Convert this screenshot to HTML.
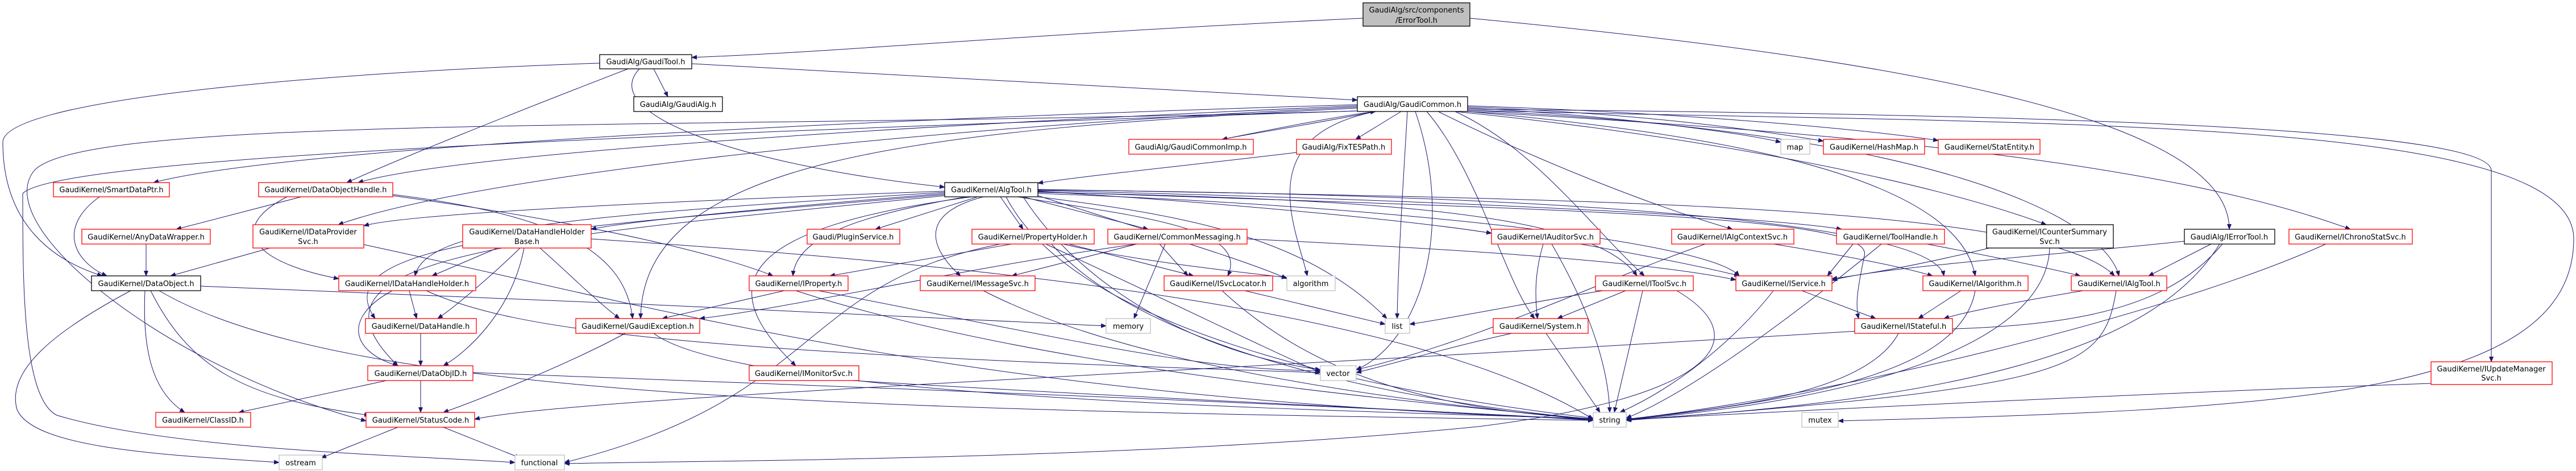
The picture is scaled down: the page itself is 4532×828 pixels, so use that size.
<!DOCTYPE html>
<html><head><meta charset="utf-8"><style>html,body{margin:0;padding:0;background:#fff}svg{display:block}</style></head><body>
<svg width="4532" height="828" viewBox="0 0 4532 828" xmlns="http://www.w3.org/2000/svg" font-family="'DejaVu Sans','Liberation Sans',sans-serif" font-size="13">
<defs><marker id="a" markerWidth="10" markerHeight="8" refX="9" refY="4" orient="auto" markerUnits="userSpaceOnUse"><path d="M0,0 L10,4 L0,8 z" fill="#191970"/></marker></defs>
<g fill="none" stroke="#191970" stroke-width="1" marker-end="url(#a)">
<path d="M2398 32 C1800 60 1500 90 1217 101"/>
<path d="M2586 32 C3300 100 3922 200 3922 403"/>
<path d="M1150 121 L1175 170"/>
<path d="M1217 112 C1700 140 2100 160 2388 176"/>
<path d="M1125 121 C1050 200 1300 290 1662 329"/>
<path d="M1105 121 C900 200 700 280 610 321"/>
<path d="M1055 111 C500 130 5 180 5 250 C5 400 100 460 180 485"/>
<path d="M2420 196 C2300 220 2200 235 2150 245"/>
<path d="M2150 245 C2250 225 2350 205 2420 196"/>
<path d="M2465 196 L2385 245"/>
<path d="M2582 190 C2800 200 3050 230 3133 250"/>
<path d="M2582 188 C2900 200 3100 230 3208 248"/>
<path d="M2582 186 C3000 200 3300 230 3410 247"/>
<path d="M2281 268 C2100 290 1900 310 1826 322"/>
<path d="M2388 184 C1500 210 500 260 270 321"/>
<path d="M2388 186 C1600 220 800 270 630 321"/>
<path d="M2388 188 C1500 230 800 320 595 395"/>
<path d="M2388 190 C1600 230 1130 280 1127 560"/>
<path d="M2420 196 C2200 240 2280 400 2300 485"/>
<path d="M2476 196 C2470 300 2460 450 2458 560"/>
<path d="M2490 196 C2560 400 2500 600 2386 650"/>
<path d="M2510 196 C2600 300 2650 500 2700 560"/>
<path d="M2388 195 C1200 230 150 200 60 300 C-20 400 300 650 644 740"/>
<path d="M2388 195 C1000 240 100 280 40 340 C40 500 40 700 100 730 C300 790 700 800 906 813"/>
<path d="M2530 196 C2700 280 2900 360 3048 403"/>
<path d="M2560 196 C3000 240 3400 320 3600 395"/>
<path d="M2582 196 C3200 230 3800 280 4135 403"/>
<path d="M2582 192 C3500 200 4383 220 4383 300 L4383 636"/>
<path d="M2582 194 C3400 230 3700 380 3728 485"/>
<path d="M2582 196 C3200 250 3450 350 3475 485"/>
<path d="M2560 196 C2700 260 2800 400 2893 485"/>
<path d="M2582 194 C3600 220 4528 200 4528 420 C4528 700 4000 720 3234 740"/>
<path d="M1720 346 L1540 403"/>
<path d="M1760 346 L1800 403"/>
<path d="M1800 346 L2020 403"/>
<path d="M1826 336 C2200 360 2500 390 2624 410"/>
<path d="M1826 335 C2500 350 3100 380 3240 403"/>
<path d="M1826 338 C2400 350 2800 370 2880 485"/>
<path d="M1826 340 C2400 360 3000 420 3060 485"/>
<path d="M1826 333 C2800 350 3600 360 3720 485"/>
<path d="M1826 334 C2600 340 3400 380 3420 485"/>
<path d="M1826 337 C2800 370 3300 380 3280 450 C3265 520 3265 540 3270 560"/>
<path d="M1700 346 C1500 380 1400 420 1395 485"/>
<path d="M1730 346 C1600 380 1650 450 1690 485"/>
<path d="M1790 346 C2000 380 2200 400 2160 485"/>
<path d="M1710 346 C1300 400 1250 500 1400 643"/>
<path d="M1662 340 C1300 370 1100 390 1040 403"/>
<path d="M1662 336 C1000 360 700 380 640 397"/>
<path d="M1662 338 C1000 380 750 400 730 485"/>
<path d="M1662 342 C1000 400 560 420 660 560"/>
<path d="M1662 344 C900 420 500 450 700 643"/>
<path d="M1826 346 C2100 380 2300 420 2440 560"/>
<path d="M1800 346 C1900 500 2100 620 2323 650"/>
<path d="M1770 346 C1900 600 2500 700 2803 735"/>
<path d="M1826 344 C2000 400 2200 460 2264 490"/>
<path d="M1780 429 L1460 485"/>
<path d="M1880 429 L2100 485"/>
<path d="M1850 429 C2000 600 2400 700 2803 737"/>
<path d="M1760 429 C1400 500 1450 700 993 813"/>
<path d="M1870 429 C2000 460 2200 480 2264 488"/>
<path d="M1840 429 C2100 550 2200 600 2323 655"/>
<path d="M2000 429 L1780 485"/>
<path d="M2040 429 L2090 485"/>
<path d="M2050 429 L1995 560"/>
<path d="M2194 420 C2600 440 2900 460 3054 492"/>
<path d="M2000 429 C1700 470 1400 540 1231 560"/>
<path d="M1380 511 L1165 560"/>
<path d="M1400 511 C1800 640 2400 700 2803 737"/>
<path d="M1440 511 C1900 600 2100 650 2323 652"/>
<path d="M1730 511 C2000 650 2500 710 2803 738"/>
<path d="M1500 669 C2000 700 2500 720 2803 739"/>
<path d="M2190 511 L2437 570"/>
<path d="M2150 511 C2300 650 2500 720 2803 736"/>
<path d="M2715 429 C2700 480 2700 520 2705 560"/>
<path d="M2730 429 C2800 550 2830 650 2832 725"/>
<path d="M2780 429 C2900 450 3000 470 3060 485"/>
<path d="M2860 511 L2740 560"/>
<path d="M2820 511 C2700 530 2550 560 2480 570"/>
<path d="M2890 511 L2840 725"/>
<path d="M2950 511 C3100 600 3000 700 2600 750 C2000 810 1200 810 993 815"/>
<path d="M2660 586 C2550 610 2450 640 2386 655"/>
<path d="M2720 586 L2815 725"/>
<path d="M3170 511 L3300 560"/>
<path d="M3120 511 C3050 600 2950 680 2850 725"/>
<path d="M3450 511 L3375 560"/>
<path d="M3475 511 C3450 650 3200 700 2861 738"/>
<path d="M3665 511 C3550 530 3450 550 3420 560"/>
<path d="M3723 511 C3700 650 3650 680 2861 739"/>
<path d="M3340 586 C3280 700 3000 720 2861 737"/>
<path d="M3260 429 L3215 485"/>
<path d="M3390 429 C3500 450 3600 470 3660 485"/>
<path d="M3310 429 C3100 600 2950 700 2861 735"/>
<path d="M3000 429 C2800 500 2600 600 2386 650"/>
<path d="M3120 429 C3250 450 3350 470 3400 485"/>
<path d="M3500 436 C3400 460 3300 480 3223 490"/>
<path d="M3606 436 C3600 600 3300 700 2861 738"/>
<path d="M3890 429 L3780 485"/>
<path d="M3905 429 C3800 600 3500 700 2861 738"/>
<path d="M3843 424 C3600 450 3300 470 3223 493"/>
<path d="M3910 429 C3800 560 3600 580 3300 580 C2000 660 1000 700 835 737"/>
<path d="M4092 429 C3800 560 3200 700 2861 737"/>
<path d="M4277 674 C3800 690 3200 720 2861 738"/>
<path d="M530 346 L310 403"/>
<path d="M505 346 C400 400 440 460 596 490"/>
<path d="M691 342 C1000 380 1100 450 1113 560"/>
<path d="M691 344 C1100 400 1300 460 1360 485"/>
<path d="M175 346 C100 400 130 460 188 485"/>
<path d="M257 429 L257 485"/>
<path d="M475 436 L300 485"/>
<path d="M640 430 C1200 550 1700 700 2803 737"/>
<path d="M875 436 L760 485"/>
<path d="M915 436 C870 480 800 540 770 560"/>
<path d="M922 436 C900 550 820 620 780 643"/>
<path d="M950 436 C1000 480 1050 530 1090 560"/>
<path d="M1040 420 C1800 470 2500 550 2803 737"/>
<path d="M720 511 L733 560"/>
<path d="M690 511 C600 560 620 620 700 643"/>
<path d="M750 511 C900 580 1200 620 2323 655"/>
<path d="M740 586 L740 643"/>
<path d="M680 669 L420 725"/>
<path d="M740 669 L740 725"/>
<path d="M832 655 C1500 680 2300 710 2803 738"/>
<path d="M255 511 C250 620 270 690 325 725"/>
<path d="M265 511 C330 640 420 700 650 730"/>
<path d="M230 511 C100 580 10 650 30 720 C60 790 300 800 491 813"/>
<path d="M280 511 C600 700 1500 720 2803 739"/>
<path d="M353 503 C800 520 1500 550 1946 573"/>
<path d="M700 751 L565 805"/>
<path d="M780 751 L915 805"/>
<path d="M1100 586 C1000 640 850 700 780 725"/>
<path d="M1150 586 C1300 700 2300 720 2803 736"/>
</g>
<g stroke-width="1.3">
<g fill="#fff" stroke="#ff0000">
<rect x="1986" y="245" width="219" height="26"/><rect x="2281" y="245" width="167" height="26"/>
<rect x="3208" y="245" width="178" height="26"/><rect x="3410" y="245" width="179" height="26"/>
<rect x="94" y="321" width="204" height="25"/><rect x="455" y="321" width="236" height="25"/>
<rect x="144" y="403" width="226" height="26"/><rect x="445" y="395" width="195" height="41"/>
<rect x="814" y="395" width="226" height="41"/><rect x="1420" y="403" width="163" height="26"/>
<rect x="1710" y="403" width="215" height="26"/><rect x="1949" y="403" width="245" height="26"/>
<rect x="2624" y="403" width="191" height="26"/><rect x="2941" y="403" width="215" height="26"/>
<rect x="3231" y="403" width="190" height="26"/><rect x="4027" y="403" width="217" height="26"/>
<rect x="4277" y="636" width="213" height="40"/>
<rect x="596" y="485" width="241" height="26"/><rect x="1318" y="485" width="174" height="26"/>
<rect x="1619" y="485" width="202" height="26"/><rect x="2048" y="485" width="191" height="26"/>
<rect x="2807" y="485" width="172" height="26"/><rect x="3054" y="485" width="169" height="26"/>
<rect x="3383" y="485" width="185" height="26"/><rect x="3644" y="485" width="168" height="26"/>
<rect x="643" y="560" width="195" height="26"/><rect x="1013" y="560" width="218" height="26"/>
<rect x="2627" y="560" width="167" height="26"/><rect x="3263" y="560" width="172" height="26"/>
<rect x="647" y="643" width="185" height="26"/><rect x="1318" y="643" width="193" height="26"/>
<rect x="274" y="725" width="167" height="26"/><rect x="644" y="725" width="191" height="26"/>
</g>
<g fill="#fff" stroke="#000">
<rect x="1055" y="96" width="162" height="25"/><rect x="1115" y="170" width="156" height="26"/>
<rect x="2388" y="170" width="194" height="26"/><rect x="1662" y="321" width="164" height="25"/>
<rect x="3495" y="395" width="223" height="41"/><rect x="3843" y="403" width="159" height="26"/>
<rect x="161" y="485" width="192" height="26"/>
</g>
<rect x="2398" y="5" width="188" height="41" fill="#bfbfbf" stroke="#000"/>
<g fill="#fff" stroke="#bfbfbf">
<rect x="3133" y="245" width="51" height="26"/><rect x="2264" y="485" width="85" height="26"/>
<rect x="1946" y="560" width="78" height="26"/><rect x="2437" y="560" width="43" height="26"/>
<rect x="2323" y="643" width="63" height="26"/><rect x="2803" y="725" width="58" height="26"/>
<rect x="3170" y="725" width="64" height="26"/><rect x="491" y="800" width="76" height="26"/>
<rect x="906" y="800" width="87" height="26"/>
</g>
</g>
<g fill="#000" text-anchor="middle">
<text x="2492" y="22">GaudiAlg/src/components</text><text x="2492" y="40">/ErrorTool.h</text>
<text x="1136" y="113">GaudiAlg/GaudiTool.h</text>
<text x="1193" y="188">GaudiAlg/GaudiAlg.h</text>
<text x="2485" y="188">GaudiAlg/GaudiCommon.h</text>
<text x="2095" y="263">GaudiAlg/GaudiCommonImp.h</text>
<text x="2364" y="263">GaudiAlg/FixTESPath.h</text>
<text x="3158" y="263">map</text>
<text x="3297" y="263">GaudiKernel/HashMap.h</text>
<text x="3500" y="263">GaudiKernel/StatEntity.h</text>
<text x="1744" y="338">GaudiKernel/AlgTool.h</text>
<text x="196" y="338">GaudiKernel/SmartDataPtr.h</text>
<text x="573" y="338">GaudiKernel/DataObjectHandle.h</text>
<text x="257" y="421">GaudiKernel/AnyDataWrapper.h</text>
<text x="542" y="412">GaudiKernel/IDataProvider</text><text x="542" y="429">Svc.h</text>
<text x="927" y="412">GaudiKernel/DataHandleHolder</text><text x="927" y="429">Base.h</text>
<text x="1501" y="421">Gaudi/PluginService.h</text>
<text x="1817" y="421">GaudiKernel/PropertyHolder.h</text>
<text x="2071" y="421">GaudiKernel/CommonMessaging.h</text>
<text x="2719" y="421">GaudiKernel/IAuditorSvc.h</text>
<text x="3048" y="421">GaudiKernel/IAlgContextSvc.h</text>
<text x="3326" y="421">GaudiKernel/ToolHandle.h</text>
<text x="3606" y="412">GaudiKernel/ICounterSummary</text><text x="3606" y="429">Svc.h</text>
<text x="3922" y="421">GaudiAlg/IErrorTool.h</text>
<text x="4135" y="421">GaudiKernel/IChronoStatSvc.h</text>
<text x="4383" y="653">GaudiKernel/IUpdateManager</text><text x="4383" y="669">Svc.h</text>
<text x="257" y="503">GaudiKernel/DataObject.h</text>
<text x="716" y="503">GaudiKernel/IDataHandleHolder.h</text>
<text x="1405" y="503">GaudiKernel/IProperty.h</text>
<text x="1720" y="503">GaudiKernel/IMessageSvc.h</text>
<text x="2143" y="503">GaudiKernel/ISvcLocator.h</text>
<text x="2306" y="503">algorithm</text>
<text x="2893" y="503">GaudiKernel/IToolSvc.h</text>
<text x="3138" y="503">GaudiKernel/IService.h</text>
<text x="3475" y="503">GaudiKernel/IAlgorithm.h</text>
<text x="3728" y="503">GaudiKernel/IAlgTool.h</text>
<text x="740" y="578">GaudiKernel/DataHandle.h</text>
<text x="1122" y="578">GaudiKernel/GaudiException.h</text>
<text x="1985" y="578">memory</text>
<text x="2458" y="578">list</text>
<text x="2710" y="578">GaudiKernel/System.h</text>
<text x="3349" y="578">GaudiKernel/IStateful.h</text>
<text x="740" y="661">GaudiKernel/DataObjID.h</text>
<text x="1414" y="661">GaudiKernel/IMonitorSvc.h</text>
<text x="2354" y="661">vector</text>
<text x="357" y="743">GaudiKernel/ClassID.h</text>
<text x="740" y="743">GaudiKernel/StatusCode.h</text>
<text x="2832" y="743">string</text>
<text x="3202" y="743">mutex</text>
<text x="529" y="818">ostream</text>
<text x="949" y="818">functional</text>
</g>
</svg>
</body></html>
